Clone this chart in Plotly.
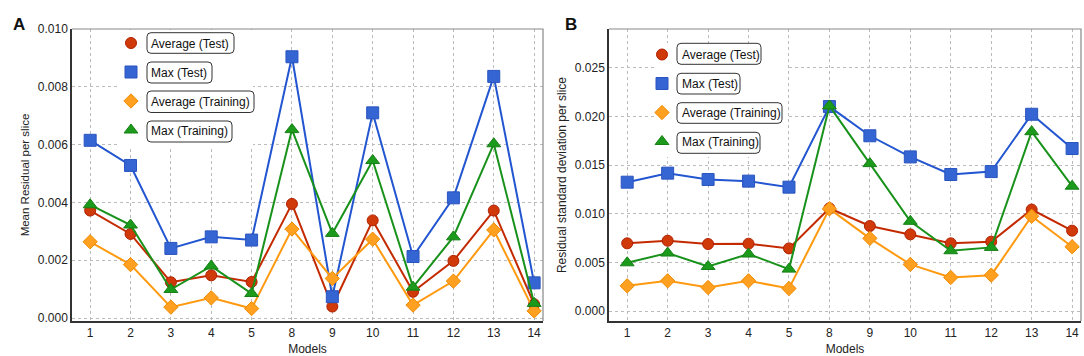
import plotly.graph_objects as go

models = ["1", "2", "3", "4", "5", "8", "9", "10", "11", "12", "13", "14"]

# Panel A: mean residual per slice
a_avg_test = [0.00372, 0.00291, 0.00124, 0.00148, 0.00125, 0.00395, 0.00040, 0.00338, 0.00091, 0.00198, 0.00372, 0.00048]
a_max_test = [0.00615, 0.00528, 0.00241, 0.00281, 0.00270, 0.00904, 0.00074, 0.00710, 0.00213, 0.00416, 0.00836, 0.00122]
a_avg_train = [0.00264, 0.00185, 0.00038, 0.00070, 0.00033, 0.00308, 0.00137, 0.00273, 0.00045, 0.00128, 0.00305, 0.00025]
a_max_train = [0.00392, 0.00322, 0.00099, 0.00180, 0.00085, 0.00652, 0.00293, 0.00545, 0.00107, 0.00281, 0.00603, 0.00051]

# Panel B: residual standard deviation per slice
b_avg_test = [0.00698, 0.00725, 0.00691, 0.00694, 0.00646, 0.01058, 0.00876, 0.00790, 0.00698, 0.00715, 0.01045, 0.00828]
b_max_test = [0.01326, 0.01419, 0.01354, 0.01337, 0.01275, 0.02103, 0.01803, 0.01586, 0.01405, 0.01435, 0.02024, 0.01672]
b_avg_train = [0.00261, 0.00313, 0.00244, 0.00313, 0.00234, 0.01052, 0.00749, 0.00481, 0.00347, 0.00371, 0.00976, 0.00663]
b_max_train = [0.00498, 0.00598, 0.00460, 0.00588, 0.00433, 0.02110, 0.01517, 0.00924, 0.00622, 0.00656, 0.01845, 0.01285]

series_names = ["Average (Test)", "Max (Test)", "Average (Training)", "Max (Training)"]
a_series = [a_avg_test, a_max_test, a_avg_train, a_max_train]
b_series = [b_avg_test, b_max_test, b_avg_train, b_max_train]

yticks_a = [0.000, 0.002, 0.004, 0.006, 0.008, 0.010]
yticks_b = [0.000, 0.005, 0.010, 0.015, 0.020, 0.025]

# ---- styles ----
W, H = 1084, 356
FONT = "Liberation Sans, Arial, sans-serif"
styles = [
    dict(line="#C42A00", fill="#D03A0A", edge="#B02000", symbol="circle", size=11),
    dict(line="#2255D0", fill="#3565D2", edge="#2A55C0", symbol="square", size=12),
    dict(line="#FF9A10", fill="#FFA020", edge="#F08A00", symbol="diamond", size=11),
    dict(line="#18921A", fill="#1C9A1C", edge="#168016", symbol="triangle-up", size=12),
]

def px_x(p):
    return p / W

def px_y(p):
    return 1 - p / H

fig = go.Figure()

panels = [
    dict(series=a_series, xa="x", ya="y", legend="legend"),
    dict(series=b_series, xa="x2", ya="y2", legend="legend2"),
]
for pi, pan in enumerate(panels):
    for si, (name, vals) in enumerate(zip(series_names, pan["series"])):
        st = styles[si]
        fig.add_trace(go.Scatter(
            x=models, y=vals, mode="lines+markers", name=name,
            xaxis=pan["xa"], yaxis=pan["ya"], showlegend=False,
            line=dict(color=st["line"], width=2),
            marker=dict(symbol=st["symbol"], size=st["size"], color=st["fill"],
                        line=dict(color=st["edge"], width=1)),
        ))
    for si, name in enumerate(series_names):
        st = styles[si]
        fig.add_trace(go.Scatter(
            x=[None], y=[None], mode="markers", name=name,
            xaxis=pan["xa"], yaxis=pan["ya"], showlegend=True,
            legend=pan["legend"], legendgroup=f"p{pi}s{si}",
            marker=dict(symbol=st["symbol"], size=st["size"], color=st["fill"],
                        line=dict(color=st["edge"], width=1)),
        ))

# plot area positions in pixels
A_dom = (72, 543)
B_dom = (609, 1081)
Y_dom = (29, 321)

xcommon = dict(type="category", range=[-0.45, 11.22], showgrid=True,
               gridcolor="#BBBBBB", griddash="dot", gridwidth=1,
               showline=True, linecolor="#333333", linewidth=1.5, automargin=False,
               ticks="", tickfont=dict(family=FONT, size=12, color="#222"),
               title=dict(text="Models", font=dict(family=FONT, size=12, color="#222"), standoff=8),
               zeroline=False, fixedrange=True)
ycommon = dict(showgrid=True, gridcolor="#BBBBBB", griddash="dot", gridwidth=1,
               showline=True, linecolor="#333333", linewidth=1.5, ticks="", automargin=False,
               tickfont=dict(family=FONT, size=12, color="#222"), zeroline=False,
               tickformat=".3f", fixedrange=True)

fig.update_layout(
    width=W, height=H,
    margin=dict(l=0, r=0, t=0, b=0, autoexpand=False),
    paper_bgcolor="white", plot_bgcolor="white",
    xaxis=dict(xcommon, domain=[px_x(A_dom[0]), px_x(A_dom[1])], anchor="y"),
    yaxis=dict(ycommon, domain=[px_y(Y_dom[1]), px_y(Y_dom[0])], anchor="x",
               range=[-0.0001, 0.010], tickvals=yticks_a,
               title=dict(text="Mean Residual per slice", font=dict(family=FONT, size=11.5, color="#222"), standoff=6)),
    xaxis2=dict(xcommon, domain=[px_x(B_dom[0]), px_x(B_dom[1])], anchor="y2"),
    yaxis2=dict(ycommon, domain=[px_y(Y_dom[1]), px_y(Y_dom[0])], anchor="x2",
                range=[-0.001, 0.029], tickvals=yticks_b,
                title=dict(text="Residual standard deviation per slice", font=dict(family=FONT, size=12, color="#222"), standoff=6)),
    legend=dict(x=px_x(111), y=px_y(28.5), xanchor="left", yanchor="top",
                bgcolor="rgba(0,0,0,0)", borderwidth=0, traceorder="grouped",
                tracegroupgap=10, font=dict(family=FONT, size=12, color="#111"),
                itemclick=False, itemdoubleclick=False),
    legend2=dict(x=px_x(642), y=px_y(40), xanchor="left", yanchor="top",
                 bgcolor="rgba(0,0,0,0)", borderwidth=0, traceorder="grouped",
                 tracegroupgap=10, font=dict(family=FONT, size=12, color="#111"),
                 itemclick=False, itemdoubleclick=False),
)

# panel letters
fig.add_annotation(text="<b>A</b>", x=px_x(11), y=px_y(13), xref="paper", yref="paper",
                   showarrow=False, font=dict(family=FONT, size=17, color="#111"))
fig.add_annotation(text="<b>B</b>", x=px_x(571), y=px_y(13), xref="paper", yref="paper",
                   showarrow=False, font=dict(family=FONT, size=17, color="#111"))

# white legend backdrops (hide gridlines; no data passes there; legend draws on top)
for (x0, y0, x1, y1) in ((118, 30, 253, 146), (657, 43, 787, 157)):
    fig.add_shape(type="rect", xref="paper", yref="paper",
                  x0=px_x(x0), x1=px_x(x1), y0=px_y(y1), y1=px_y(y0),
                  fillcolor="white", line=dict(width=0), layer="above")

# lighter top/right frame
for dom in (A_dom, B_dom):
    fig.add_shape(type="path", xref="paper", yref="paper",
                  path=f"M {px_x(dom[0])} {px_y(Y_dom[0])} L {px_x(dom[1])} {px_y(Y_dom[0])} L {px_x(dom[1])} {px_y(Y_dom[1])}",
                  line=dict(color="#888888", width=1.2), layer="above")

# rounded boxes around legend labels (pixel boxes)
def rrect(x0, y0, x1, y1, r=4):
    X = lambda p: px_x(p)
    Y = lambda p: px_y(p)
    return (f"M {X(x0+r)} {Y(y0)} L {X(x1-r)} {Y(y0)} Q {X(x1)} {Y(y0)} {X(x1)} {Y(y0+r)} "
            f"L {X(x1)} {Y(y1-r)} Q {X(x1)} {Y(y1)} {X(x1-r)} {Y(y1)} "
            f"L {X(x0+r)} {Y(y1)} Q {X(x0)} {Y(y1)} {X(x0)} {Y(y1-r)} "
            f"L {X(x0)} {Y(y0+r)} Q {X(x0)} {Y(y0)} {X(x0+r)} {Y(y0)} Z")

box_a = [(147, 32.7, 234, 53.3), (147, 62, 212, 83), (147, 91, 254, 112.5), (147, 121, 232, 142)]
box_b = [(677, 43.3, 761, 64.3), (677, 73.3, 740, 94), (677, 102.7, 782, 123.3), (677, 132.3, 760, 153.3)]
for bx in box_a + box_b:
    fig.add_shape(type="path", xref="paper", yref="paper", path=rrect(*bx),
                  line=dict(color="#333333", width=1), layer="above")

fig.write_html("out.html", config={"displayModeBar": False},
               post_script="document.body.style.margin='0px';")
